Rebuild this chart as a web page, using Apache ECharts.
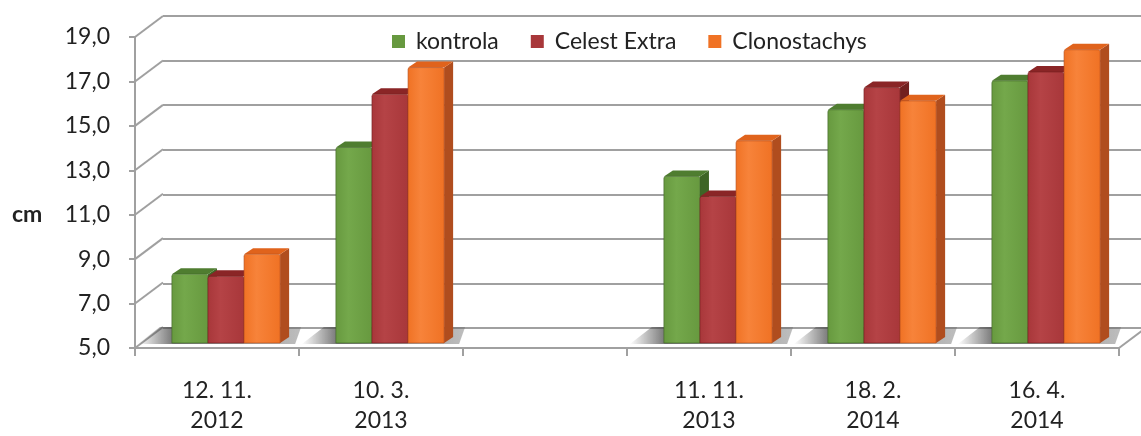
<!DOCTYPE html>
<html>
<head>
<meta charset="utf-8">
<script src="https://cdn.jsdelivr.net/npm/echarts@6/dist/echarts.min.js"></script>
<style>
  html, body { margin: 0; padding: 0; background: #fff; }
  #chart { width: 1141px; height: 436px; }
</style>
</head>
<body>
<div id="chart"></div>
<script>
// data
const categories = ['12. 11.\n2012', '10. 3.\n2013', '', '11. 11.\n2013', '18. 2.\n2014', '16. 4.\n2014'];
const kontrola = [8.1, 13.8, null, 12.5, 15.5, 16.8];
const celestExtra = [8.0, 16.2, null, 11.6, 16.5, 17.2];
const clonostachys = [9.0, 17.4, null, 14.1, 15.9, 18.2];
const yTicks = [5, 7, 9, 11, 13, 15, 17, 19];
const yMin = 5, yMax = 19, yStep = 2;

// colours: front, top, side
const palette = [
  { front: '#67993f', light: '#74a84b', top: '#4f7d30', side: '#3e6526' },
  { front: '#a8373a', light: '#b54346', top: '#8a2526', side: '#72201f' },
  { front: '#f07224', light: '#f7833a', top: '#e0631c', side: '#b04d1e' }
];

const DEPTH_X = 28, DEPTH_Y = 21;   // wall offset
const BAR_DX = 9, BAR_DY = 5;       // bar front face sits a bit into the floor
const SIDE_X = 9, SIDE_Y = 6;       // bar thickness

const chart = echarts.init(document.getElementById('chart'));

function toData(values) {
  const out = [];
  values.forEach((v, i) => { if (v != null) out.push([i, v]); });
  return out;
}

function barRenderer(seriesIdx) {
  return function (params, api) {
    const cat = api.value(0), v = api.value(1);
    const top = api.coord([cat, v]);
    const base = api.coord([cat, yMin]);
    const band = api.size([1, 0])[0];
    const w = band * 0.22;
    const x = top[0] + BAR_DX - 1.5 * w + seriesIdx * w;
    const yT = top[1] - BAR_DY, yB = base[1] - BAR_DY;
    const c = palette[seriesIdx];
    return {
      type: 'group',
      children: [
        {
          type: 'polygon',
          shape: { points: [[x + w, yT], [x + w + SIDE_X, yT - SIDE_Y], [x + w + SIDE_X, yB - SIDE_Y], [x + w, yB]] },
          style: { fill: c.side }
        },
        {
          type: 'polygon',
          shape: { points: [[x, yT], [x + SIDE_X, yT - SIDE_Y], [x + w + SIDE_X, yT - SIDE_Y], [x + w, yT]] },
          style: { fill: c.top }
        },
        {
          type: 'rect',
          shape: { x: x, y: yT, width: w, height: yB - yT, r: [2, 2, 0, 0] },
          style: {
            fill: new echarts.graphic.LinearGradient(0, 0, 1, 0, [
              { offset: 0, color: c.front },
              { offset: 0.35, color: c.light },
              { offset: 1, color: c.front }
            ]),
            stroke: c.side, lineWidth: 0.6
          }
        }
      ]
    };
  };
}

// floor shadow behind each cluster
function shadowRenderer(params, api) {
  const cat = api.value(0);
  const base = api.coord([cat, yMin]);
  const band = api.size([1, 0])[0];
  const w = band * 0.22;
  const x0 = base[0] + BAR_DX - 1.5 * w;
  const x1 = x0 + 3 * w + SIDE_X;
  const y = base[1] - BAR_DY;
  return {
    type: 'polygon',
    shape: { points: [[x0 - 34, y + 1], [x0 - 12, y - 16], [x1 + 12, y - 16], [x1 + 6, y + 1]] },
    style: {
      fill: new echarts.graphic.LinearGradient(0, 0, 1, 0, [
        { offset: 0, color: 'rgba(70,70,70,0)' },
        { offset: 0.22, color: 'rgba(70,70,70,0.75)' },
        { offset: 1, color: 'rgba(110,110,110,0.45)' }
      ])
    },
    silent: true
  };
}

// slanted lines joining front axis ticks to the back wall
function connectorRenderer(params, api) {
  const v = api.value(1);
  const p = api.coord([0, v]);
  const band = api.size([1, 0])[0];
  const x = p[0] - band / 2;
  return {
    type: 'line',
    shape: { x1: x, y1: p[1], x2: x + DEPTH_X, y2: p[1] - DEPTH_Y },
    style: { stroke: '#a0a0a0', lineWidth: 2 },
    silent: true
  };
}

function rightEdgeRenderer(params, api) {
  const p = api.coord([categories.length - 1, yMin]);
  const band = api.size([1, 0])[0];
  const x = p[0] + band / 2;
  return {
    type: 'line',
    shape: { x1: x, y1: p[1], x2: x + DEPTH_X, y2: p[1] - DEPTH_Y },
    style: { stroke: '#a0a0a0', lineWidth: 2 },
    silent: true
  };
}

const labelFont = 'Lato';
const names = ['kontrola', 'Celest Extra', 'Clonostachys'];
const seriesValues = [kontrola, celestExtra, clonostachys];

const option = {
  animation: false,
  graphic: [
    {
      type: 'text', left: 12, top: 203,
      style: { text: 'cm', font: 'bold 23px Lato', fill: '#222' }
    }
  ],
  legend: {
    data: names,
    left: 387,
    top: 25,
    icon: 'rect',
    itemWidth: 13,
    itemHeight: 13,
    itemGap: 32,
    textStyle: { fontFamily: labelFont, fontSize: 23, color: '#222', padding: [0, 0, 0, 6] }
  },
  grid: [
    { left: 135, right: 22, top: 37, bottom: 87 },
    { left: 135 + DEPTH_X, right: 22 - DEPTH_X, top: 37 - DEPTH_Y, bottom: 87 + DEPTH_Y }
  ],
  xAxis: [
    {
      type: 'category', gridIndex: 0, data: categories,
      axisLine: { show: true, lineStyle: { color: '#a0a0a0', width: 2 } },
      axisTick: { show: true, length: 8, lineStyle: { color: '#a0a0a0', width: 2 } },
      axisLabel: { fontFamily: labelFont, fontSize: 23, color: '#222', lineHeight: 30, margin: 28 }
    },
    {
      type: 'category', gridIndex: 1, data: categories,
      axisLine: { show: false }, axisTick: { show: false }, axisLabel: { show: false }
    }
  ],
  yAxis: [
    {
      type: 'value', gridIndex: 0, min: yMin, max: yMax, interval: yStep,
      axisLine: { show: true, lineStyle: { color: '#a0a0a0', width: 2 } },
      axisTick: { show: true, length: 6, lineStyle: { color: '#a0a0a0', width: 2 } },
      splitLine: { show: false },
      axisLabel: {
        fontFamily: labelFont, fontSize: 23, color: '#222', margin: 25,
        formatter: v => v.toFixed(1).replace('.', ',')
      }
    },
    {
      type: 'value', gridIndex: 1, min: yMin, max: yMax, interval: yStep,
      axisLine: { show: false }, axisTick: { show: false }, axisLabel: { show: false },
      splitLine: { show: true, lineStyle: { color: '#a0a0a0', width: 2 } }
    }
  ],
  series: [
    {
      type: 'custom', xAxisIndex: 0, yAxisIndex: 0, silent: true, z: 1,
      data: yTicks.map(t => [0, t]),
      renderItem: connectorRenderer
    },
    {
      type: 'custom', xAxisIndex: 0, yAxisIndex: 0, silent: true, z: 1,
      data: [[categories.length - 1, yMin]],
      renderItem: rightEdgeRenderer
    },
    {
      type: 'custom', xAxisIndex: 0, yAxisIndex: 0, silent: true, z: 2,
      data: toData(kontrola),
      renderItem: shadowRenderer
    }
  ].concat(names.map((n, i) => ({
    name: n,
    type: 'custom', xAxisIndex: 0, yAxisIndex: 0, z: 3,
    itemStyle: { color: palette[i].front },
    data: toData(seriesValues[i]),
    renderItem: barRenderer(i)
  })))
};

chart.setOption(option);
</script>
</body>
</html>
